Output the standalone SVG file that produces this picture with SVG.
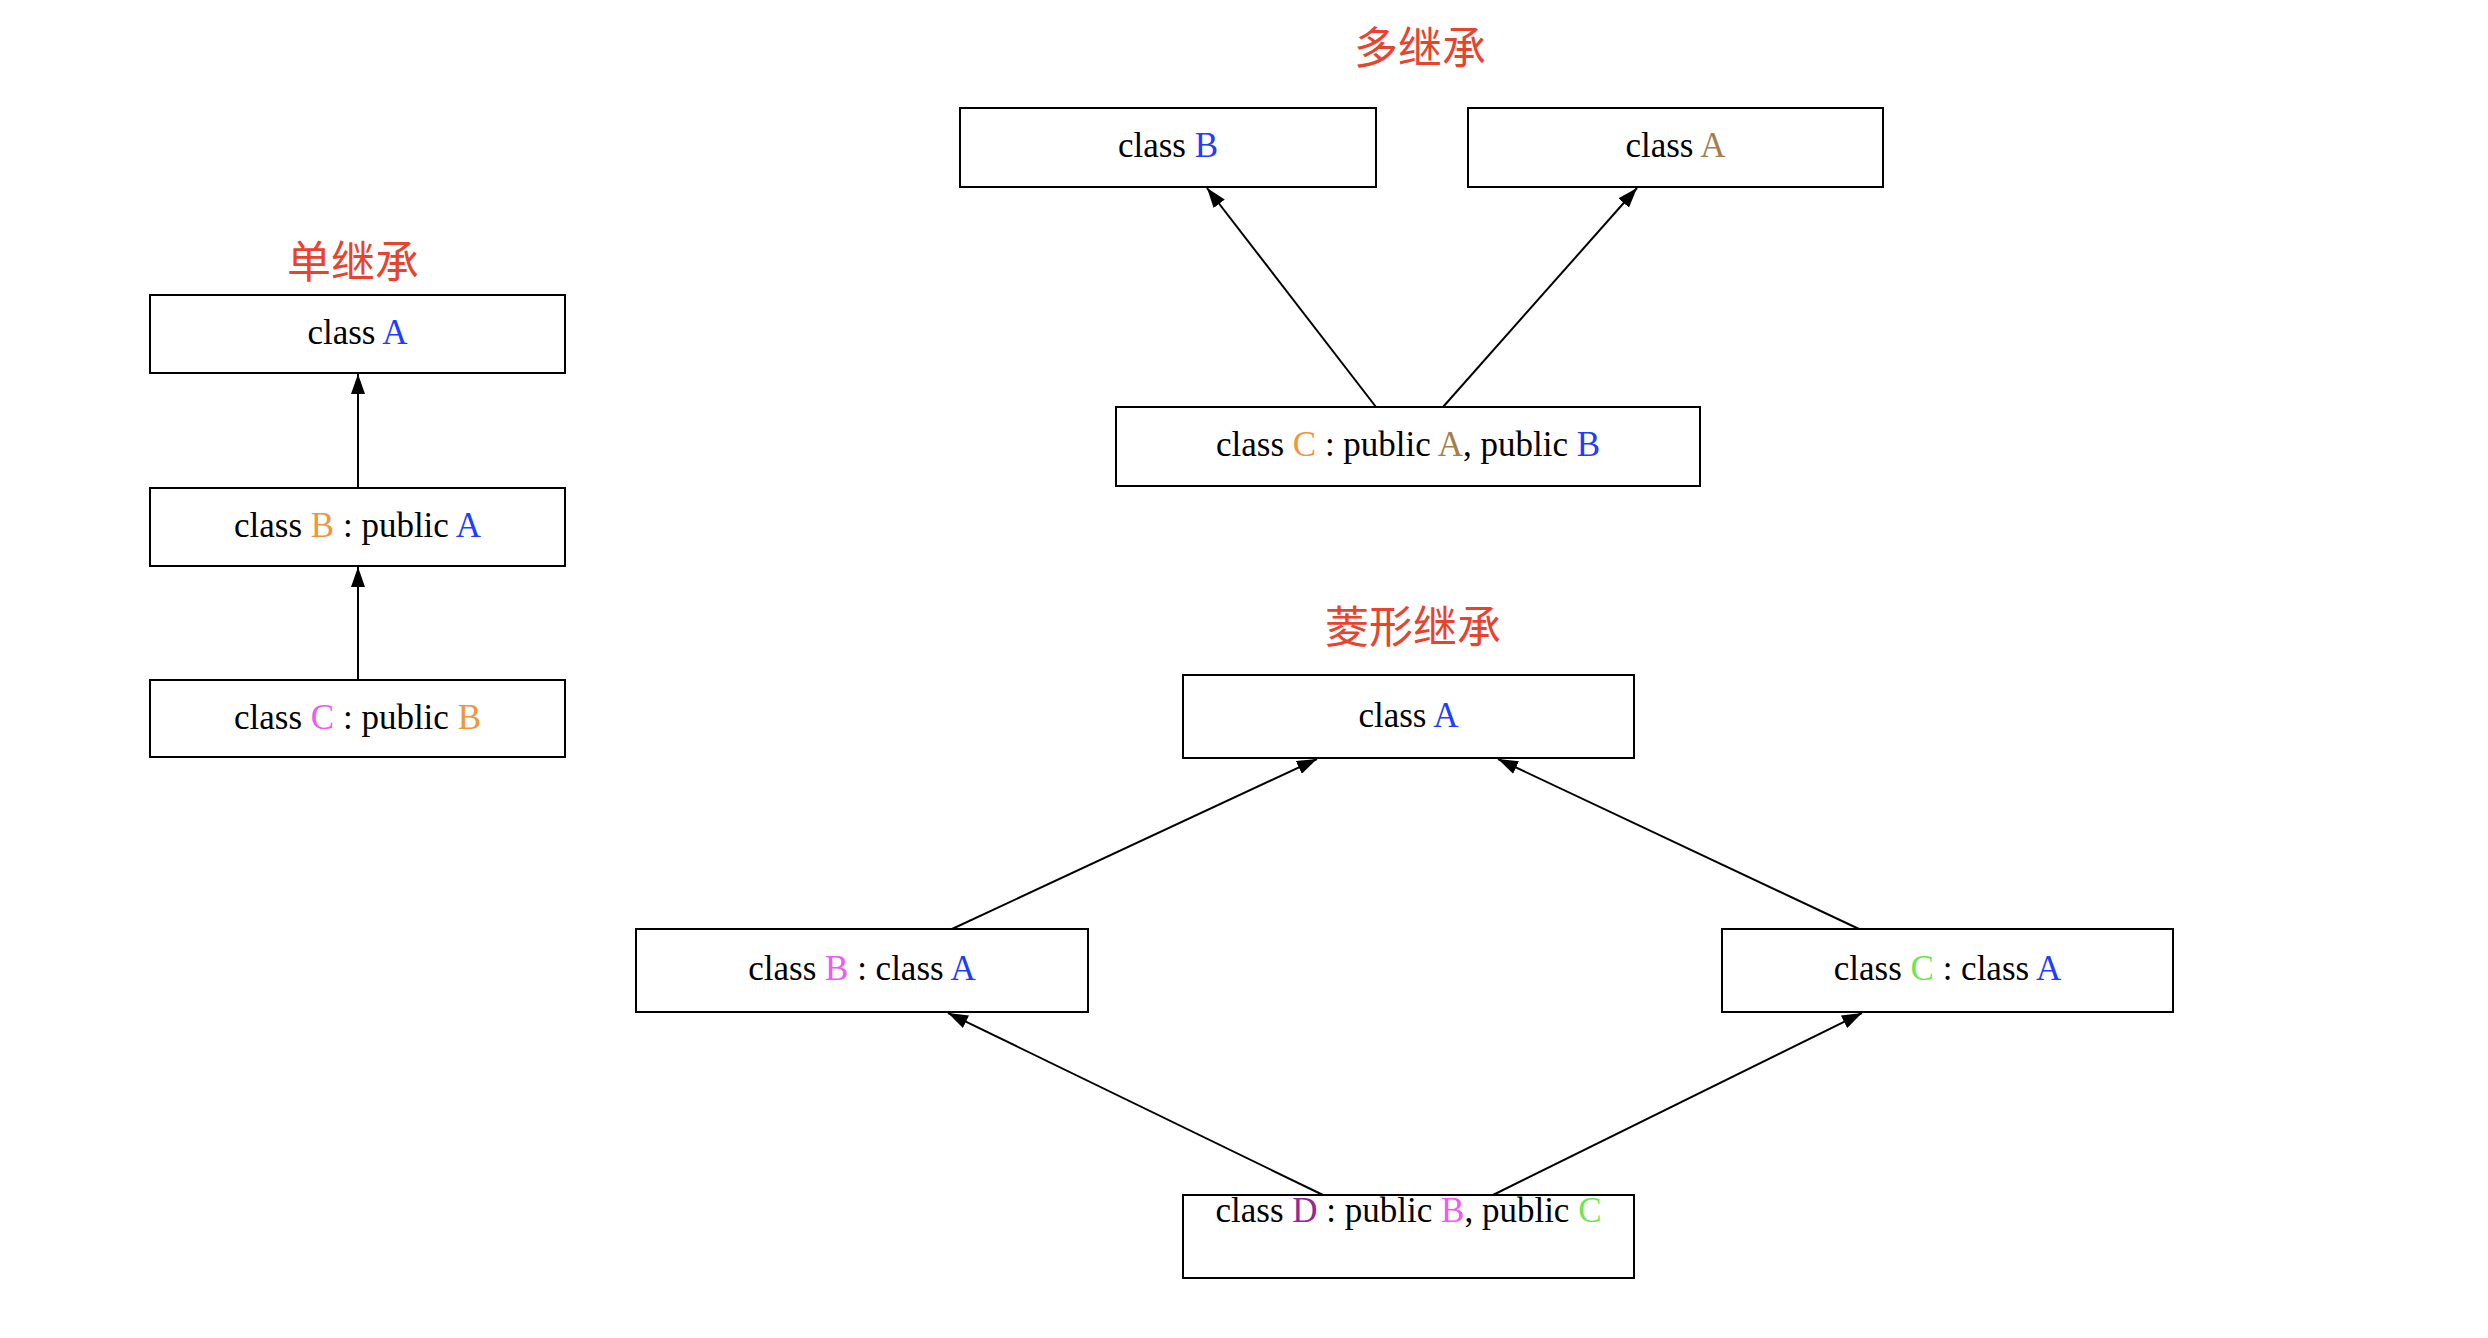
<svg xmlns="http://www.w3.org/2000/svg" width="2488" height="1338" viewBox="0 0 2488 1338">
<style>
.box{fill:#fff;stroke:#000;stroke-width:2}
.lbl{font-family:"Liberation Serif","DejaVu Serif",serif;font-size:35px;fill:#000;text-anchor:middle}
.title{font-family:"Noto Sans CJK SC","Noto Sans CJK JP",sans-serif;font-size:44px;fill:#e8432d;text-anchor:middle}
.edge{stroke:#000;stroke-width:2;fill:none;marker-end:url(#arr)}
.blue{fill:#1f3cff}.orange{fill:#f0963c}.pink{fill:#f05af0}.brown{fill:#a57e50}.purple{fill:#962896}.green{fill:#6ee650}
</style>
<defs>
<marker id="arr" viewBox="0 0 20 14" refX="20" refY="7" markerWidth="20" markerHeight="14" markerUnits="userSpaceOnUse" orient="auto">
<path d="M0,0 L20,7 L0,14 z" fill="#000"/>
</marker>
</defs>
<rect width="2488" height="1338" fill="#fff"/>
<g id="titles">
<text class="title" x="353" y="278">单继承</text>
<text class="title" x="1420" y="64">多继承</text>
<text class="title" x="1413" y="643">菱形继承</text>
</g>
<g id="connectors">
<line class="edge" x1="358" y1="488" x2="358" y2="374"/>
<line class="edge" x1="358" y1="680" x2="358" y2="567"/>
<line class="edge" x1="1376" y1="407" x2="1207" y2="188"/>
<line class="edge" x1="1443" y1="407" x2="1637" y2="188"/>
<line class="edge" x1="952" y1="929" x2="1317" y2="759"/>
<line class="edge" x1="1859" y1="929" x2="1498" y2="759"/>
<line class="edge" x1="1323" y1="1195" x2="948" y2="1013"/>
<line class="edge" x1="1493" y1="1195" x2="1862" y2="1013"/>
</g>
<g id="s-A"><rect class="box" x="150" y="295" width="415" height="78"/><text class="lbl" x="357.5" y="344">class <tspan class="blue">A</tspan></text></g>
<g id="s-B"><rect class="box" x="150" y="488" width="415" height="78"/><text class="lbl" x="357.5" y="537">class <tspan class="orange">B</tspan> : public <tspan class="blue">A</tspan></text></g>
<g id="s-C"><rect class="box" x="150" y="680" width="415" height="77"/><text class="lbl" x="357.5" y="729">class <tspan class="pink">C</tspan> : public <tspan class="orange">B</tspan></text></g>
<g id="m-B"><rect class="box" x="960" y="108" width="416" height="79"/><text class="lbl" x="1168" y="157">class <tspan class="blue">B</tspan></text></g>
<g id="m-A"><rect class="box" x="1468" y="108" width="415" height="79"/><text class="lbl" x="1675.5" y="157">class <tspan class="brown">A</tspan></text></g>
<g id="m-C"><rect class="box" x="1116" y="407" width="584" height="79"/><text class="lbl" x="1408" y="456">class <tspan class="orange">C</tspan> : public <tspan class="brown">A</tspan>, public <tspan class="blue">B</tspan></text></g>
<g id="d-A"><rect class="box" x="1183" y="675" width="451" height="83"/><text class="lbl" x="1408.5" y="727">class <tspan class="blue">A</tspan></text></g>
<g id="d-B"><rect class="box" x="636" y="929" width="452" height="83"/><text class="lbl" x="862" y="980">class <tspan class="pink">B</tspan> : class <tspan class="blue">A</tspan></text></g>
<g id="d-C"><rect class="box" x="1722" y="929" width="451" height="83"/><text class="lbl" x="1947.5" y="980">class <tspan class="green">C</tspan> : class <tspan class="blue">A</tspan></text></g>
<g id="d-D"><rect class="box" x="1183" y="1195" width="451" height="83"/><text class="lbl" x="1408.5" y="1222">class <tspan class="purple">D</tspan> : public <tspan class="pink">B</tspan>, public <tspan class="green">C</tspan></text></g>
</svg>
